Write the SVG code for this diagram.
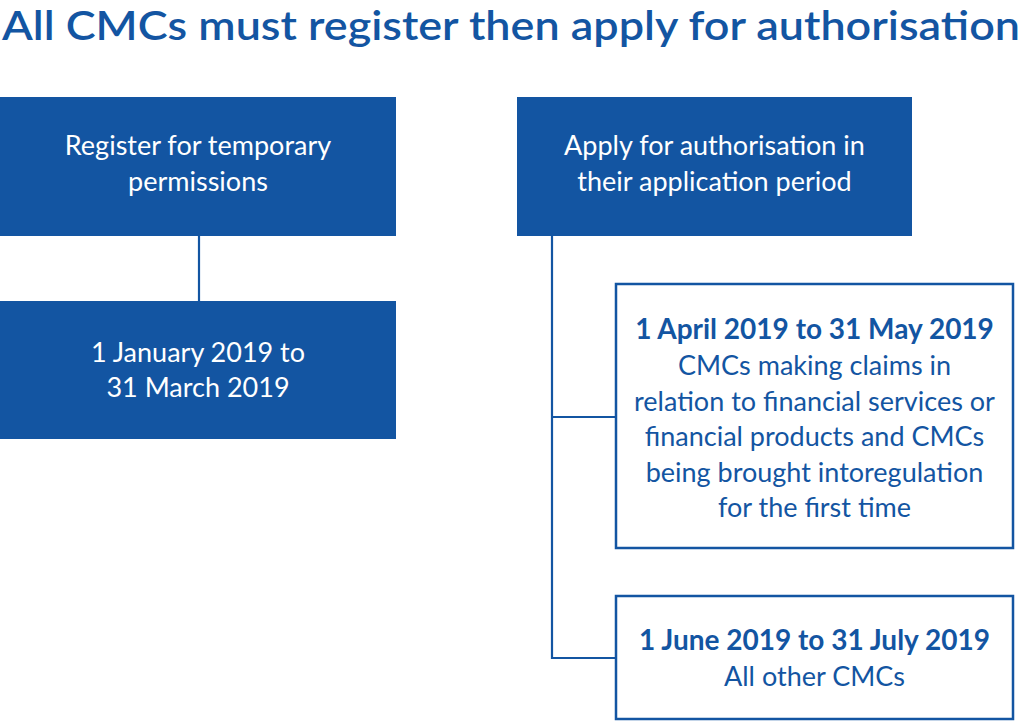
<svg xmlns="http://www.w3.org/2000/svg" width="1024" height="721" viewBox="0 0 1024 721">
<style>
.fill{fill:#1355A2}
.out{fill:#fff;stroke:#1355A2;stroke-width:2.5}
.wt{fill:#fff;font-family:Lato,"Open Sans",sans-serif;font-size:27px;text-anchor:middle}
.bt{fill:#1355A2;font-family:Lato,"Open Sans",sans-serif;font-size:27px;text-anchor:middle}
.b{font-weight:bold;font-size:28px}
.ttl{fill:#1355A2;font-family:Lato,"Open Sans",sans-serif;font-size:41px;font-weight:600}
.con{fill:none;stroke:#1355A2;stroke-width:2.2}
</style>
<rect width="1024" height="721" fill="#fff"/>
<text class="ttl" x="2" y="40" textLength="1018" lengthAdjust="spacingAndGlyphs">All CMCs must register then apply for authorisation</text>
<g id="connectors">
<line class="con" x1="199" y1="236" x2="199" y2="301"/>
<polyline class="con" points="552,236 552,658 616,658"/>
<line class="con" x1="552" y1="417" x2="616" y2="417"/>
</g>
<g id="register">
<rect class="fill" x="0" y="97" width="396" height="139"/>
<text class="wt" x="198" y="155">Register for temporary</text>
<text class="wt" x="198" y="191">permissions</text>
</g>
<g id="register-dates">
<rect class="fill" x="0" y="301" width="396" height="138"/>
<text class="wt" x="198" y="362">1 January 2019 to</text>
<text class="wt" x="198" y="397">31 March 2019</text>
</g>
<g id="apply">
<rect class="fill" x="517" y="97" width="395" height="139"/>
<text class="wt" x="714.5" y="155">Apply for authorisation in</text>
<text class="wt" x="714.5" y="191">their application period</text>
</g>
<g id="period1">
<rect class="out" x="616" y="284" width="397" height="264"/>
<text class="bt b" x="814.5" y="339">1 April 2019 to 31 May 2019</text>
<text class="bt" x="814.5" y="375">CMCs making claims in</text>
<text class="bt" x="814.5" y="411">relation to financial services or</text>
<text class="bt" x="814.5" y="446">financial products and CMCs</text>
<text class="bt" x="814.5" y="482">being brought intoregulation</text>
<text class="bt" x="814.5" y="517">for the first time</text>
</g>
<g id="period2">
<rect class="out" x="616" y="596" width="397" height="123"/>
<text class="bt b" x="814.5" y="650">1 June 2019 to 31 July 2019</text>
<text class="bt" x="814.5" y="686">All other CMCs</text>
</g>
</svg>
